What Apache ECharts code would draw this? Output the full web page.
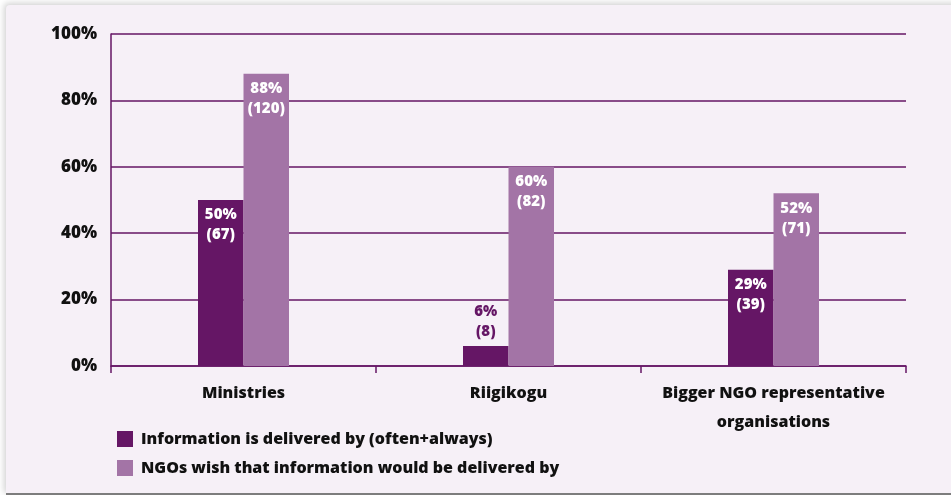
<!DOCTYPE html>
<html>
<head>
<meta charset="utf-8">
<script src="https://cdn.jsdelivr.net/npm/echarts@6/dist/echarts.min.js"></script>
<style>
  html, body { margin: 0; padding: 0; background: #ffffff; overflow: hidden; }
  #card {
    position: absolute; left: 6px; top: 5px; width: 960px; height: 488px;
    background: #f6f0f7; border-top-left-radius: 4px;
    box-shadow: -2px -2px 6px rgba(0,0,0,0.18);
    border-bottom: 2px solid #7d7d7d;
  }
  #chart { position: absolute; left: 0; top: 0; width: 951px; height: 495px; }
</style>
</head>
<body>
<div id="card"></div>
<div id="chart"></div>
<script>
// Categories and survey results (percent and respondent count)
const categories = ['Ministries', 'Riigikogu', 'Bigger NGO representative\norganisations'];
const seriesNames = ['Information is delivered by (often+always)', 'NGOs wish that information would be delivered by'];
const deliveredPct = [50, 6, 29];
const deliveredCount = [67, 8, 39];
const wishedPct = [88, 60, 52];
const wishedCount = [120, 82, 71];
const yTicks = [0, 20, 40, 60, 80, 100];

const DARK = '#651665';
const LIGHT = '#a374a6';
const FONT = '"Open Sans"';
const W = 800;

function barData(pcts, counts, color) {
  return pcts.map((v, i) => {
    const small = v < 10;
    return {
      value: v,
      label: {
        show: true,
        position: small ? 'top' : 'insideTop',
        distance: small ? 4 : 5,
        color: small ? color : '#ffffff',
        formatter: v + '%\n(' + counts[i] + ')'
      }
    };
  });
}

const chart = echarts.init(document.getElementById('chart'), null, { renderer: 'canvas' });
chart.setOption({
  animation: false,
  backgroundColor: 'transparent',
  textStyle: { fontFamily: FONT, fontWeight: W },
  grid: { left: 111, right: 45, top: 34, bottom: 129, containLabel: false },
  legend: {
    orient: 'vertical', left: 112, top: 426, itemWidth: 16, itemHeight: 16, itemGap: 13,
    icon: 'rect', selectedMode: false,
    textStyle: { fontFamily: FONT, fontWeight: W, fontSize: 16, color: '#111111', padding: [0, 0, 0, 3] },
    data: seriesNames
  },
  xAxis: {
    type: 'category', data: categories,
    axisLine: { lineStyle: { color: DARK, width: 1.5 } },
    axisTick: { show: true, interval: 0, length: 7, lineStyle: { color: DARK, width: 1.5 } },
    axisLabel: { interval: 0, fontFamily: FONT, fontWeight: W, fontSize: 16, color: '#111111', margin: 13, lineHeight: 29 }
  },
  yAxis: {
    type: 'value', min: 0, max: 100, interval: 20,
    axisLine: { show: true, lineStyle: { color: DARK, width: 1.5 } },
    axisTick: { show: false },
    splitLine: { lineStyle: { color: DARK, width: 1.5 } },
    axisLabel: {
      fontFamily: FONT, fontWeight: W, fontSize: 17, color: '#111111', margin: 14,
      formatter: v => yTicks.includes(v) ? v + '%' : ''
    }
  },
  series: [
    {
      name: seriesNames[0], type: 'bar', barWidth: 45.5, barGap: '0%',
      itemStyle: { color: DARK },
      label: { fontFamily: FONT, fontWeight: W, fontSize: 15, lineHeight: 20 },
      data: barData(deliveredPct, deliveredCount, DARK)
    },
    {
      name: seriesNames[1], type: 'bar', barWidth: 45.5, barGap: '0%',
      itemStyle: { color: LIGHT },
      label: { fontFamily: FONT, fontWeight: W, fontSize: 15, lineHeight: 20 },
      data: barData(wishedPct, wishedCount, LIGHT)
    }
  ]
});
</script>
</body>
</html>
